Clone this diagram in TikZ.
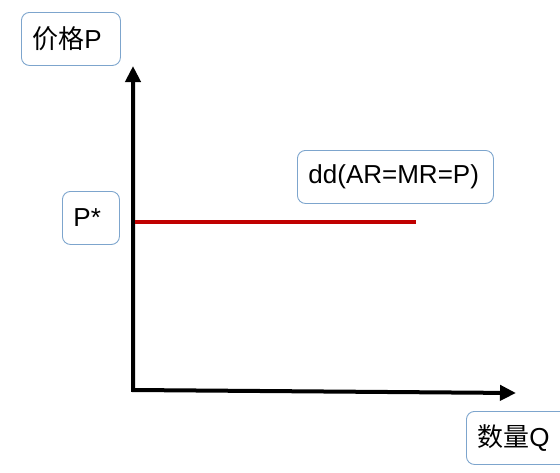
\documentclass[tikz,border=0pt]{standalone}
\usepackage{fontspec}
\setmainfont{Liberation Sans}
\newfontfamily\cjk{Noto Sans CJK SC}
\usetikzlibrary{arrows.meta}
\definecolor{boxblue}{RGB}{125,165,205}
\definecolor{ddred}{RGB}{192,0,0}

\begin{document}
\begin{tikzpicture}[x=1pt, y=-1pt, >={Triangle[length=16pt, width=15pt]},
  lbl/.style={draw=boxblue, line width=0.9pt, rounded corners=8pt, anchor=north west,
    inner xsep=11pt, inner ysep=0pt, minimum height=53pt, align=left,
    font=\fontsize{26}{30}\selectfont}]
  \useasboundingbox (0,0) rectangle (560,472);
  % ------------------------------------------------------------------ axes
  \coordinate (O) at (133,390);
  \coordinate (ytip) at (133,66);
  \coordinate (xtip) at (516,393);
  \draw[<->, line width=4pt, miter limit=4] (ytip) -- (O) -- (xtip);
  % ------------------------------------------------------------------ demand curve dd
  \coordinate (dd0) at (135,222);
  \coordinate (dd1) at (416,222);
  \draw[ddred, line width=4pt] (dd0) -- (dd1);
  % ------------------------------------------------------------------ labels
  \node[lbl, text width=77pt] (price) at (21,12) {{\cjk 价格}P};
  \node[lbl, text width=35pt] (pstar) at (62,191) {P*};
  \node[lbl, text width=174pt] (ddlab) at (297,150) {dd(AR=MR=P)};
  \node[lbl, text width=84pt] (qty) at (466,411) {{\cjk 数量}Q};
\end{tikzpicture}
\end{document}
